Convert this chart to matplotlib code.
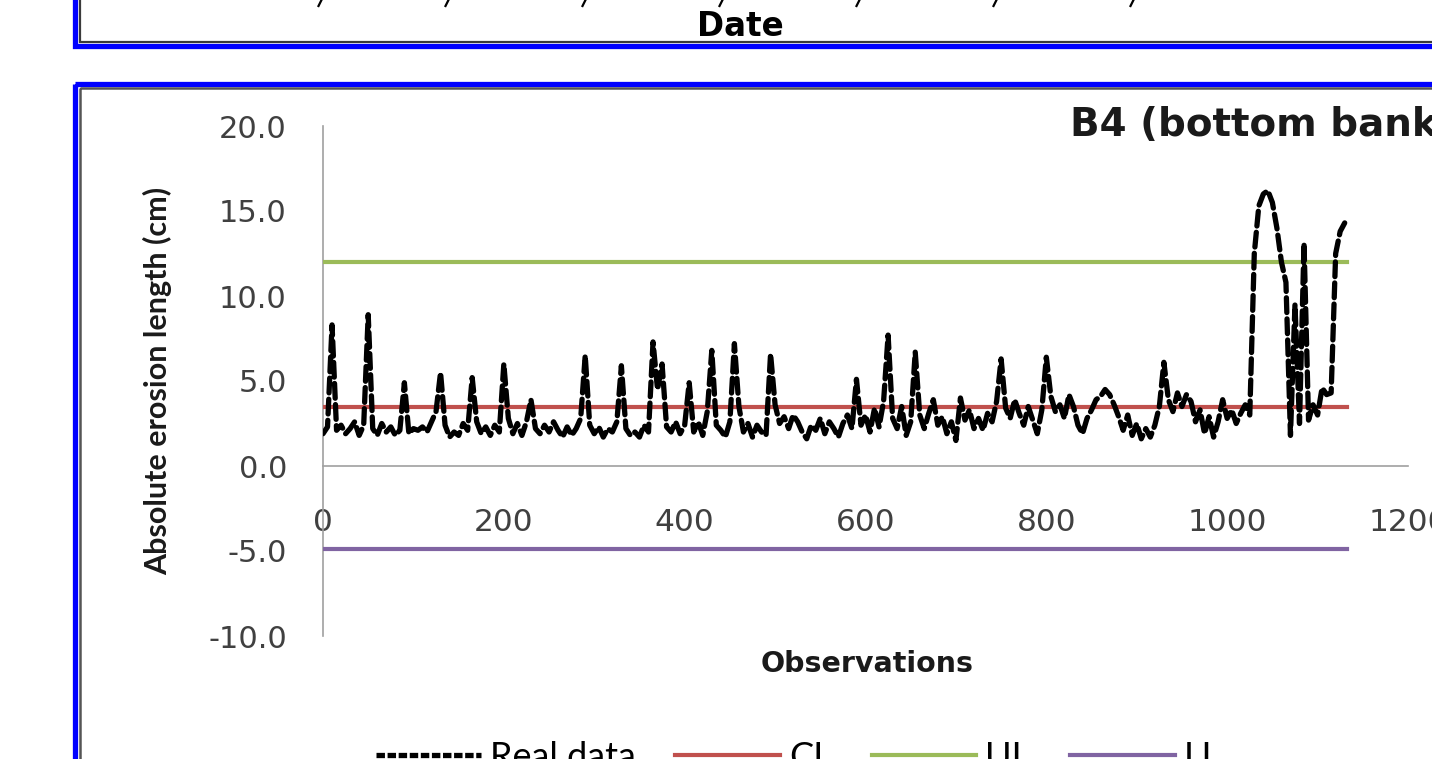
import numpy as np
import matplotlib as mpl
import matplotlib.pyplot as plt
from matplotlib.patches import Rectangle
from matplotlib.lines import Line2D

# observations are logged every 5 steps
step = 5
erosion = [
    # 0 - 95
    1.9, 2.3, 8.3, 2.1, 2.4, 1.9, 2.2, 2.6, 1.8, 2.4,
    8.9, 2.2, 1.8, 2.5, 2.0, 2.3, 1.8, 2.1, 4.9, 1.9,
    # 100 - 195
    2.2, 2.1, 2.3, 2.0, 2.6, 3.2, 5.5, 2.4, 1.7, 2.0,
    1.8, 2.5, 2.1, 5.2, 2.6, 1.9, 2.3, 1.8, 2.4, 2.0,
    # 200 - 295
    6.0, 2.8, 1.9, 2.5, 1.8, 2.6, 3.9, 2.2, 1.9, 2.4,
    2.0, 2.6, 2.1, 1.7, 2.3, 1.8, 2.2, 2.8, 6.5, 2.4,
    # 300 - 395
    1.9, 2.3, 1.7, 2.2, 2.0, 2.6, 5.9, 2.2, 1.8, 2.0,
    1.7, 2.4, 2.0, 7.3, 4.5, 6.0, 2.3, 2.0, 2.6, 1.9,
    # 400 - 495
    2.4, 4.9, 2.0, 2.6, 1.8, 3.2, 6.8, 2.4, 2.1, 1.7,
    2.6, 7.2, 3.5, 2.0, 2.5, 1.7, 2.4, 2.0, 1.8, 6.6,
    # 500 - 595
    3.6, 2.5, 2.9, 2.2, 3.0, 2.6, 2.0, 1.6, 2.4, 2.1,
    2.8, 1.9, 2.6, 2.2, 1.7, 2.5, 3.0, 2.2, 5.1, 2.4,
    # 600 - 695
    3.0, 2.0, 3.4, 2.3, 3.8, 7.7, 2.8, 2.2, 3.5, 1.8,
    2.6, 6.7, 3.0, 2.2, 3.1, 3.9, 2.4, 2.9, 1.9, 2.6,
    # 700 - 795
    1.5, 4.0, 2.7, 3.3, 2.2, 2.8, 2.1, 3.1, 2.6, 3.8,
    6.3, 3.4, 2.8, 3.9, 3.1, 2.4, 3.5, 2.7, 1.9, 3.3,
    # 800 - 895
    6.4, 4.1, 3.2, 3.6, 2.8, 4.2, 3.5, 2.4, 1.9, 2.8,
    3.3, 3.9, 4.1, 4.5, 4.2, 3.6, 2.9, 2.1, 3.0, 1.8,
    # 900 - 995
    2.5, 1.6, 2.2, 1.7, 2.4, 3.5, 6.1, 3.9, 3.2, 4.3,
    3.5, 4.2, 3.8, 2.6, 3.3, 1.9, 2.9, 1.7, 2.6, 3.9,
    # 1000 - 1095
    2.8, 3.3, 2.5, 3.1, 3.6, 3.0, 12.5, 15.3, 16.0, 16.2,
    15.5, 14.0, 12.0, 10.8, 1.8, 9.5, 2.5, 13.1, 2.7, 3.6,
    # 1100 - 1130
    3.0, 4.6, 4.2, 4.3, 12.5, 13.8, 14.3,
]
obs = np.arange(len(erosion)) * step

cl = 3.5
ucl = 12.0
lcl = -4.9

x_ticks = [0, 200, 400, 600, 800, 1000, 1200]
y_ticks = [-10, -5, 0, 5, 10, 15, 20]

W, H = 1432, 759
fig = plt.figure(figsize=(W / 100, H / 100), dpi=100)

# background layer in pixel coordinates for the framed panels
bg = fig.add_axes([0, 0, 1, 1])
bg.set_xlim(0, W)
bg.set_ylim(H, 0)
bg.axis('off')

blue = '#0000ff'
# upper panel (cut off)
bg.add_patch(Rectangle((75, -50), 1500, 96, fill=False, ec=blue, lw=3.8))
bg.add_patch(Rectangle((79.5, -50), 1500, 92, fill=False, ec='#3a3a3a', lw=1.6))
# lower panel (cut off)
bg.add_patch(Rectangle((75, 83.5), 1500, 800, fill=False, ec=blue, lw=3.8))
bg.add_patch(Rectangle((79.5, 88), 1500, 800, fill=False, ec='#555555', lw=1.8))

# bottoms of the rotated date labels of the upper panel
for xm in [320, 447, 584, 721, 858, 995, 1132]:
    bg.plot([xm - 1.5, xm + 1.5], [6, 0], color='black', lw=1.6)

bg.text(740, 26, 'Date', ha='center', va='center', fontsize=23.5,
        fontweight='bold', family='DejaVu Sans')
bg.text(867, 664, 'Observations', ha='center', va='center', fontsize=20.5,
        fontweight='bold', family='DejaVu Sans', color='#1a1a1a')
bg.text(1070, 125, 'B4 (bottom bank)', ha='left', va='center', fontsize=28,
        fontweight='bold', family='DejaVu Sans', color='#1a1a1a')

# main chart
ax = fig.add_axes([323 / W, (H - 636) / H, 1085 / W, 510 / H])
ax.patch.set_alpha(0)

ax.plot(obs, erosion, color='black', lw=3.8, linestyle=(0, (2.8, 1.2)),
        dash_capstyle='round', solid_capstyle='round', label='Real data', zorder=4)
ax.plot([obs[0], obs[-1] + 3], [cl, cl], color='#c0504d', lw=3.0, label='CL', zorder=3)
ax.plot([obs[0], obs[-1] + 3], [ucl, ucl], color='#9bbb59', lw=3.0, label='UL', zorder=3)
ax.plot([obs[0], obs[-1] + 3], [lcl, lcl], color='#8064a2', lw=3.0, label='LL', zorder=3)

ax.set_xlim(0, 1200)
ax.set_ylim(-10, 20)
ax.set_xticks(x_ticks)
ax.set_yticks(y_ticks)
ax.set_yticklabels(['%.1f' % v for v in y_ticks])

for s in ['top', 'right']:
    ax.spines[s].set_visible(False)
ax.spines['bottom'].set_position(('data', 0))
for s in ['left', 'bottom']:
    ax.spines[s].set_color('#a0a0a0')
    ax.spines[s].set_linewidth(1.2)

ax.tick_params(axis='y', length=0, pad=26, labelsize=22, labelcolor='#404040')
ax.tick_params(axis='x', length=0, pad=30, labelsize=22.5, labelcolor='#404040')

ax.set_ylabel('Absolute erosion length (cm)', family='Lato', fontweight='bold',
              fontsize=22, color='#1a1a1a')
ax.yaxis.set_label_coords(-0.139, 0.5)

handles = [
    Line2D([], [], color='black', lw=3.8, linestyle=(0, (1.6, 0.5))),
    Line2D([], [], color='#c0504d', lw=3.0),
    Line2D([], [], color='#9bbb59', lw=3.0),
    Line2D([], [], color='#8064a2', lw=3.0),
]
fig.legend(handles, ['Real data', 'CL', 'UL', 'LL'], loc='upper left',
           bbox_to_anchor=(376 / W, 1 - 741 / H), ncol=4, frameon=False,
           prop={'family': 'Lato', 'size': 26}, handlelength=2.9,
           handletextpad=0.25, columnspacing=1.1, borderpad=0, borderaxespad=0)

fig.savefig('out.png', dpi=100)
